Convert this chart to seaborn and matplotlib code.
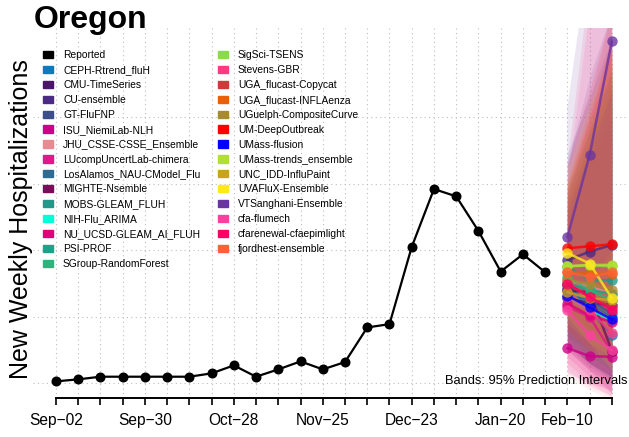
import matplotlib
matplotlib.use("Agg")
import matplotlib.pyplot as plt
import matplotlib.patches as mpatches
import seaborn as sns
import pandas as pd
import numpy as np

# reported weekly hospitalizations (arbitrary units)
weeks = ["Sep-02", "Sep-09", "Sep-16", "Sep-23", "Sep-30", "Oct-07", "Oct-14",
         "Oct-21", "Oct-28", "Nov-04", "Nov-11", "Nov-18", "Nov-25", "Dec-02",
         "Dec-09", "Dec-16", "Dec-23", "Dec-30", "Jan-06", "Jan-13", "Jan-20",
         "Jan-27", "Feb-03"]
reported = [3, 6, 10, 10, 10, 10, 10, 15, 27, 10, 21, 33, 21, 32, 84, 89,
            205, 292, 281, 229, 168, 194, 167]
forecast_weeks = ["Feb-10", "Feb-17", "Feb-24"]

tick_labels = {0: "Sep\u221202", 4: "Sep\u221230", 8: "Oct\u221228", 12: "Nov\u221225",
               16: "Dec\u221223", 20: "Jan\u221220", 23: "Feb\u221210"}

models = ["CEPH-Rtrend_fluH", "CMU-TimeSeries", "CU-ensemble", "GT-FluFNP",
          "ISU_NiemiLab-NLH", "JHU_CSSE-CSSE_Ensemble", "LUcompUncertLab-chimera",
          "LosAlamos_NAU-CModel_Flu", "MIGHTE-Nsemble", "MOBS-GLEAM_FLUH",
          "NIH-Flu_ARIMA", "NU_UCSD-GLEAM_AI_FLUH", "PSI-PROF", "SGroup-RandomForest",
          "SigSci-TSENS", "Stevens-GBR", "UGA_flucast-Copycat", "UGA_flucast-INFLAenza",
          "UGuelph-CompositeCurve", "UM-DeepOutbreak", "UMass-flusion",
          "UMass-trends_ensemble", "UNC_IDD-InfluPaint", "UVAFluX-Ensemble",
          "VTSanghani-Ensemble", "cfa-flumech", "cfarenewal-cfaepimlight",
          "fjordhest-ensemble"]
colors = ["#0a7bbc", "#4b1468", "#4b2a82", "#3c4e8c", "#cc0088", "#e88a92",
          "#e0188a", "#2d6b92", "#7a0c5a", "#21998a", "#00ffd6", "#e0007a",
          "#1fa088", "#2db47c", "#88dc48", "#ff3a80", "#cc3a3a", "#e8600a",
          "#a88a30", "#ff0000", "#0000ff", "#b2e032", "#c8a41e", "#ffe81c",
          "#6a35a0", "#ff3fa0", "#ff0066", "#ff6035"]

# medians for the three forecast weeks
median = [[150, 110, 73], [128, 120, 118], [185, 198, 208], [140, 125, 105],
          [53, 41, 40], [155, 145, 135], [115, 100, 47], [145, 120, 100],
          [140, 137, 49], [175, 155, 155], [130, 110, 95], [120, 102, 92],
          [150, 140, 135], [160, 140, 125], [176, 177, 176], [130, 110, 75],
          [150, 130, 115], [168, 165, 165], [155, 150, 140], [203, 206, 209],
          [132, 114, 96], [176, 178, 178], [137, 128, 125], [196, 180, 128],
          [220, 343, 514], [110, 72, 50], [150, 130, 110], [167, 160, 167]]
# 95% prediction interval bounds
lower = [[60, 30, 5], [70, 50, 40], [90, 60, 40], [60, 30, 10],
         [15, 0, -10], [10, -10, -25], [40, 10, -15], [55, 25, 5],
         [50, 20, -15], [80, 50, 30], [60, 30, 10], [50, 20, 0],
         [70, 40, 20], [70, 40, 20], [90, 60, 40], [30, 0, -20],
         [60, 30, 10], [80, 50, 30], [70, 40, 20], [110, 80, 50],
         [60, 30, 10], [90, 60, 40], [60, 30, 10], [100, 60, 20],
         [120, 150, 200], [20, -5, -20], [60, 30, 10], [80, 50, 30]]
upper = [[345, 430, 520], [250, 330, 400], [330, 460, 560], [270, 360, 450],
         [220, 300, 380], [300, 420, 560], [260, 370, 480], [280, 380, 470],
         [270, 360, 450], [290, 380, 470], [260, 350, 430], [250, 340, 420],
         [280, 370, 460], [290, 380, 460], [300, 390, 480], [330, 600, 800],
         [280, 390, 500], [300, 400, 500], [290, 380, 470], [330, 440, 560],
         [260, 350, 440], [300, 390, 480], [270, 360, 450], [320, 420, 500],
         [415, 650, 900], [300, 560, 760], [290, 400, 520], [300, 410, 520]]

sns.set_style("white")
plt.rcParams["font.family"] = ["Liberation Sans", "DejaVu Sans"]
plt.rcParams["text.color"] = "black"
plt.rcParams["xtick.color"] = "black"
plt.rcParams["xtick.labelcolor"] = "black"

fig = plt.figure(figsize=(6.29, 4.37), dpi=100)
ax = fig.add_axes([33 / 629, 39 / 437, 596 / 629, 370 / 437])

n_rep = len(reported)
fx = np.arange(n_rep, n_rep + len(forecast_weeks))

# bands
for m, c, lo, hi in zip(models, colors, lower, upper):
    ax.fill_between(fx, lo, hi, color=c, alpha=0.12, linewidth=0)

# forecast medians
fc = pd.DataFrame({
    "model": np.repeat(models, len(forecast_weeks)),
    "x": np.tile(fx, len(models)),
    "y": np.concatenate(median),
})
sns.lineplot(data=fc, x="x", y="y", hue="model", palette=dict(zip(models, colors)),
             estimator=None, marker="o", markersize=7.5, markeredgewidth=0,
             linewidth=1.8, alpha=0.8, legend=False, ax=ax)

# reported
rep = pd.DataFrame({"x": np.arange(n_rep), "y": reported})
sns.lineplot(data=rep, x="x", y="y", color="black", marker="o", markersize=7.2,
             markeredgewidth=0, linewidth=1.6, ax=ax)

ax.set_xlim(-1.03, 25.77)
ax.set_ylim(-22, 534)
all_ticks = np.arange(n_rep + len(forecast_weeks))
ax.set_xticks(all_ticks)
ax.set_xticklabels([tick_labels.get(i, "") for i in all_ticks], fontsize=11.2,
                   color="black")
ax.set_yticks([0, 100, 200, 300, 400])
ax.set_yticklabels([])
ax.tick_params(axis="y", length=0)
ax.tick_params(axis="x", length=5, width=1.2, pad=6, direction="out", bottom=True,
               color="black")
ax.grid(True, linestyle=(0, (1, 3)), color="#bdbdbd", linewidth=0.8)
for s in ["top", "right", "left"]:
    ax.spines[s].set_visible(False)
ax.spines["bottom"].set_bounds(0, all_ticks[-1])
ax.spines["bottom"].set_linewidth(1.4)
ax.spines["bottom"].set_color("black")
ax.set_xlabel("")
ax.set_ylabel("")

ax.text(0.998, 0.045, "Bands: 95% Prediction Intervals", transform=ax.transAxes,
        ha="right", va="center", fontsize=9.3, color="black")

fig.text(34 / 629, 1 - 28 / 437, "Oregon", fontsize=23, fontweight="bold",
         ha="left", va="baseline", color="black")
fig.text(21 / 629, 1 - 219 / 437, "New Weekly Hospitalizations", fontsize=18,
         rotation=90, ha="center", va="center", color="black")

handles = [mpatches.Patch(color="black", label="Reported")]
handles += [mpatches.Patch(color=c, label=m) for m, c in zip(models, colors)]
fig.legend(handles=handles, loc="upper left", bbox_to_anchor=(43 / 629, 1 - 50 / 437),
           ncol=2, frameon=False, fontsize=7.4, borderpad=0, borderaxespad=0,
           handlelength=0.95, handleheight=0.7, handletextpad=1.0,
           labelspacing=0.48, columnspacing=1.7, labelcolor="black")

fig.savefig("out.png", dpi=100)
